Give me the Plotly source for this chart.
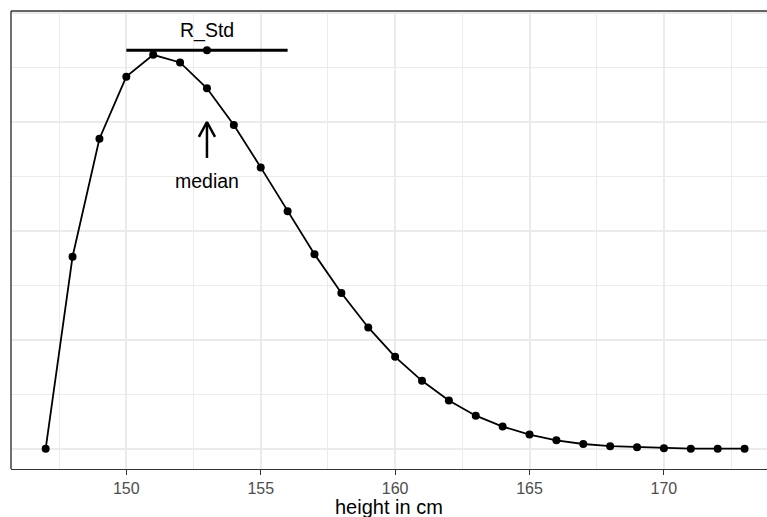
import plotly.graph_objects as go

# data
heights = list(range(147, 174))
probs = [0.0, 0.0529, 0.0854, 0.1025, 0.1085, 0.1064, 0.0993, 0.0892, 0.0775,
         0.0654, 0.0536, 0.0429, 0.0334, 0.0253, 0.0187, 0.0133, 0.0091, 0.0061,
         0.0039, 0.0023, 0.0013, 0.0007, 0.0004, 0.0001, 0.0, 0.0, 0.0]

median_x = 153
rstd_center = 153
rstd_half = 3
rstd_y = 0.1098
rstd_label_y = 0.1153
arrow_tip_y = 0.0900
arrow_tail_y = 0.0801
arrow_arm_y = 0.0859
arrow_arm_dx = 0.30
median_label_y = 0.0737

x_range = [145.71, 173.835]
y_range = [-0.00559, 0.12058]
y_major = [0, 0.03, 0.06, 0.09, 0.12]
y_minor = [0.015, 0.045, 0.075, 0.105]

FONT = "Liberation Sans, Arial, sans-serif"

fig = go.Figure()

fig.add_trace(go.Scatter(
    x=heights, y=probs, mode="lines+markers",
    line=dict(color="black", width=1.8),
    marker=dict(color="black", size=8),
    showlegend=False, hoverinfo="skip"))

fig.add_trace(go.Scatter(
    x=[rstd_center], y=[rstd_y], mode="markers",
    marker=dict(color="black", size=8),
    error_x=dict(type="data", array=[rstd_half], color="black", thickness=3, width=0),
    showlegend=False, hoverinfo="skip"))

# arrow for median
fig.add_trace(go.Scatter(
    x=[median_x, median_x, None, median_x - arrow_arm_dx, median_x, median_x + arrow_arm_dx],
    y=[arrow_tail_y, arrow_tip_y, None, arrow_arm_y, arrow_tip_y, arrow_arm_y],
    mode="lines", line=dict(color="black", width=2.5),
    showlegend=False, hoverinfo="skip"))

fig.add_annotation(x=rstd_center, y=rstd_label_y, text="R_Std", showarrow=False,
                   font=dict(family=FONT, size=19.5, color="black"),
                   xanchor="center", yanchor="middle")
fig.add_annotation(x=median_x, y=median_label_y, text="median", showarrow=False,
                   font=dict(family=FONT, size=19.5, color="black"),
                   xanchor="center", yanchor="middle")
fig.add_annotation(x=0.5, xref="paper", y=0, yref="paper", yshift=-38,
                   text="height in cm", showarrow=False,
                   font=dict(family=FONT, size=20, color="black"),
                   xanchor="center", yanchor="middle")

# panel border: top and left (right side lies beyond the visible area)
fig.add_shape(type="line", xref="paper", yref="paper", x0=0, x1=1.05, y0=1, y1=1,
              line=dict(color="#333333", width=1.4), layer="above")
fig.add_shape(type="line", xref="paper", yref="paper", x0=0, x1=0, y0=0, y1=1,
              line=dict(color="#333333", width=1.4), layer="above")

fig.update_xaxes(
    range=x_range, tickmode="linear", tick0=150, dtick=5,
    showgrid=True, gridcolor="#EBEBEB", gridwidth=1.5,
    minor=dict(tickmode="linear", tick0=147.5, dtick=2.5, showgrid=True,
               gridcolor="#EBEBEB", gridwidth=0.8, ticks=""),
    ticks="outside", ticklen=4.5, tickwidth=1.3, tickcolor="#333333",
    tickfont=dict(family=FONT, size=16, color="#4D4D4D"),
    showline=True, linecolor="#333333", linewidth=1.4, mirror=False,
    zeroline=False)

fig.update_yaxes(
    range=y_range, tickmode="array", tickvals=y_major, showticklabels=False,
    showgrid=True, gridcolor="#EBEBEB", gridwidth=1.5,
    minor=dict(tickmode="array", tickvals=y_minor, showgrid=True,
               gridcolor="#EBEBEB", gridwidth=0.8, ticks=""),
    ticks="", showline=False, zeroline=False)

fig.update_layout(
    width=767, height=517,
    margin=dict(l=11, r=0, t=11, b=48),
    paper_bgcolor="white", plot_bgcolor="white",
    font=dict(family=FONT))

fig.write_html("out.html")
